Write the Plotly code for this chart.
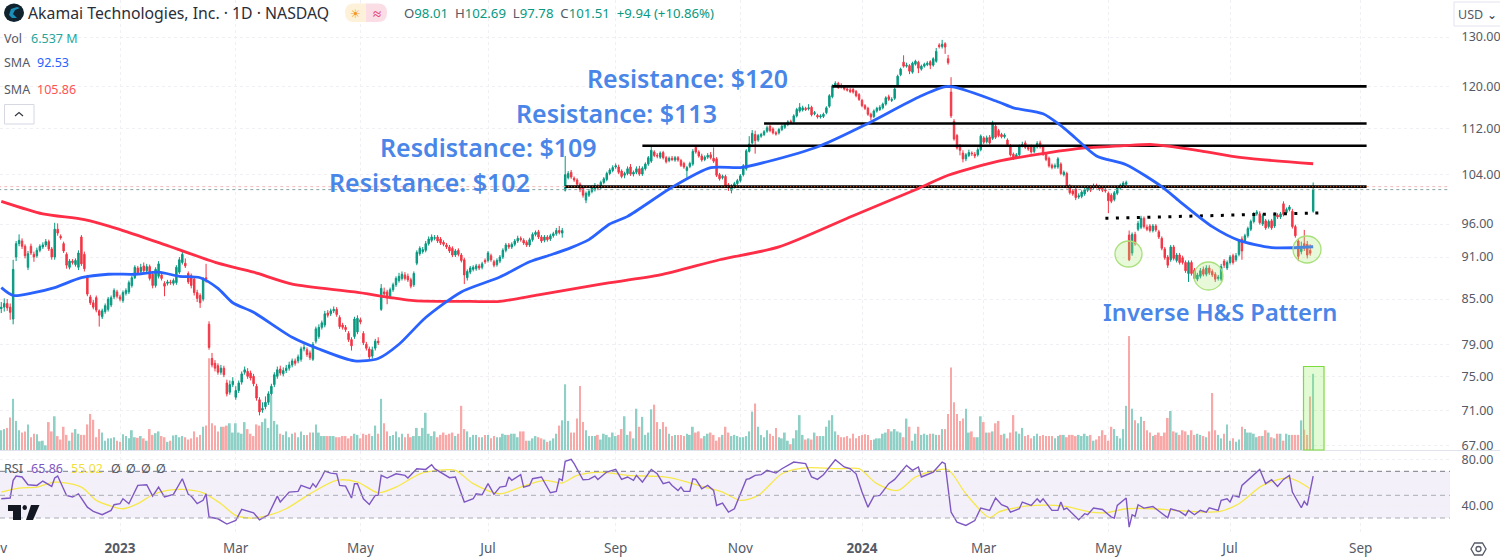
"""Akamai daily chart: candles, volume, SMAs, RSI and the drawn resistance levels."""

import plotly.graph_objects as go

WIDTH, HEIGHT = 1500, 559
PLOT_RIGHT = 1450

UP, DOWN = "#089981", "#f23645"
BLUE, RED = "#2962ff", "#ff2d46"
TEXT_BLUE = "#4a86e8"
GREY = "#555a66"
GRID = "#f1eff3"
FONT = "Noto Sans"

opens = [
    83.7, 83.9, 84.4, 83.9, 82.3, 91, 93, 93.4, 92.6, 89.5,
    92.6, 91.4, 91.2, 92, 92.5, 92.8, 93.3, 92.2, 91, 95.2,
    94.1, 93, 91.4, 89.5, 90.4, 89.9, 89.5, 94, 91.4, 88.1,
    85.3, 84.5, 85.2, 83.4, 82.6, 83.3, 83.6, 84.2, 85.3, 86,
    85.3, 84.8, 85.8, 86, 86.9, 88, 89.4, 88.9, 89.7, 89,
    89.6, 88.5, 86.9, 88.2, 88.4, 87.2, 87.2, 87.4, 87.2, 87.3,
    88.8, 90.2, 90.1, 88.6, 88.3, 87.8, 85.9, 85.5, 85, 88,
    81.6, 77.2, 76.6, 76.3, 75.5, 76, 74.2, 73.1, 74, 72.5,
    73.3, 74.3, 75.5, 75.6, 75.4, 75, 73.8, 72.2, 71, 71.4,
    71.9, 72.9, 74, 75, 75.9, 75.3, 75.7, 76, 76.4, 76.9,
    76.9, 77.1, 78.4, 78.3, 77.9, 77.1, 79.4, 80, 81.2, 81.5,
    83.1, 83, 83.4, 83.6, 82.5, 81.5, 81.2, 80.4, 79.6, 80,
    80.6, 82.2, 80.4, 79, 78.4, 77.5, 78.5, 79.4, 83.6, 86,
    86, 85.3, 86.3, 87, 87.6, 87.9, 88.4, 88.2, 87.7, 87,
    90.1, 91.5, 91.8, 92, 93, 93.5, 93.8, 94, 93.7, 93.2,
    92.8, 92.5, 92.3, 91.3, 92, 91.3, 90.6, 88, 88.8, 89.2,
    89.3, 89.7, 89.5, 90.5, 90.5, 91.2, 90.3, 89.9, 90.4, 91,
    92, 92.8, 92.5, 92.9, 93.4, 93.8, 93.5, 93.2, 92.8, 93.6,
    94.4, 94.8, 94, 93.5, 94, 93.7, 94.2, 94.5, 95, 94.6,
    101.4, 103.5, 104.4, 103.4, 103.1, 102.4, 101.8, 99.8, 100.6, 101.2,
    101.5, 102, 101.9, 102.7, 103.2, 104.2, 104.7, 105.3, 105.3, 104.6,
    103.9, 104.2, 105.3, 104.1, 104.4, 105, 104.1, 105, 105.8, 106.3,
    107.9, 107.3, 107, 107.8, 106.9, 106.4, 106.8, 106.5, 106.9, 106.4,
    105.9, 104.7, 105.4, 105.8, 108.7, 107.9, 107.2, 106.6, 107, 107.4,
    106.8, 106.7, 104, 103.5, 103.7, 102.3, 101.4, 102, 102.5, 103,
    104, 105, 108, 109.5, 111, 110, 110.7, 111, 111.6, 112.5,
    112, 111.3, 111.3, 111.9, 112.3, 112.8, 113.4, 113.3, 114.4, 115.3,
    115.5, 115.8, 115.7, 116, 114.8, 114.5, 114.2, 114.3, 115, 116.2,
    118, 120.2, 120.6, 120.2, 119.9, 119.5, 119.3, 119.4, 119, 118.4,
    117.3, 116.3, 115.8, 114.7, 114.3, 115.3, 115.6, 115.9, 116.6, 118,
    117.3, 117.7, 120.2, 122.3, 124.8, 124, 124.1, 122.8, 124.4, 124.8,
    123.4, 124, 124.3, 124.9, 124.2, 125, 128.3, 128, 128.6, 125.5,
    118.9, 113.4, 110.8, 109, 107.7, 106.7, 107.3, 107.7, 107.5, 107.4,
    108.3, 110.4, 109.7, 110.5, 110.3, 112.5, 111.7, 111, 110.6, 110,
    109, 107.5, 107, 107.4, 109, 109.5, 108.7, 108.9, 108, 108.8,
    109.5, 108.8, 107.6, 106.8, 105.6, 105.3, 105.3, 105.8, 104, 104.2,
    102.1, 101.3, 101.6, 100.3, 100.4, 100.8, 101.4, 101.8, 101.8, 102.2,
    102, 101.7, 101.5, 100.9, 100.6, 99.9, 100.9, 101.8, 102.1, 102.4,
    94.3, 91.6, 94.4, 95.2, 95.5, 96.9, 95.5, 95.7, 95, 95.7,
    94.8, 93.8, 92.2, 91, 90.6, 92.5, 90.5, 91.3, 90.9, 90.2,
    88.6, 90.2, 89.1, 87.8, 88.2, 89.2, 88.5, 89.4, 88.9, 88.5,
    87.9, 87.8, 90.4, 89.4, 90.2, 91.2, 90.6, 91.4, 93.7, 93.4,
    94.2, 95.2, 96.4, 97.6, 97.6, 96, 96.5, 95.6, 96.5, 95.7,
    97.4, 97.1, 99.2, 97.8, 98.3, 98, 95.6, 93.4, 91.8, 93, 92.9, 92, 98.01,
]
closes = [
    83.9, 84.4, 83.8, 83.2, 89.2, 93, 93.5, 92.6, 91.2, 91.5,
    91.6, 91, 92, 92.6, 92.8, 93.3, 92.2, 91, 95.2, 94.6,
    93.9, 91.9, 89.8, 90.4, 90.2, 90.5, 91.6, 90, 89.3, 85.7,
    84.5, 83.9, 83.5, 82.8, 83.4, 84.1, 85, 85.2, 86.2, 85.4,
    85, 85.9, 86.2, 87.3, 88, 89.5, 88.7, 89.5, 89, 89.6,
    87.9, 86.9, 89.2, 90, 87.9, 86.8, 87.4, 87.3, 87.6, 89.5,
    90.6, 91.4, 89.7, 87.4, 86.9, 85.9, 85.1, 84.5, 87.8, 87.8,
    78.6, 76.4, 76, 75.5, 76, 75.2, 72.9, 74, 74.4, 73.3,
    74.2, 75.3, 75.8, 75, 74.8, 74.1, 72.4, 70.8, 71.2, 71.9,
    72.9, 73.8, 75.2, 75.8, 75.4, 75.7, 76, 76.4, 76.9, 76.6,
    77.4, 78.4, 78.6, 77.7, 77.3, 79, 81, 81.2, 81.8, 83,
    82.8, 83.4, 83.6, 82.9, 81.3, 81.2, 80.9, 79.6, 78.8, 82.3,
    82.4, 81.9, 79.2, 78.5, 77.4, 78.3, 79.4, 79.2, 86.5, 85.7,
    85.2, 86.3, 87, 87.9, 88.2, 88.5, 87.9, 87.7, 86.8, 88.6,
    91.7, 92.3, 92.1, 93, 93.7, 94, 93.9, 93.4, 93.1, 92.9,
    92.5, 91.9, 91.3, 91.9, 91.4, 90.5, 88.4, 88.9, 89.4, 89.5,
    89.7, 89.4, 90, 90.3, 91.6, 90.6, 89.8, 90.5, 91, 92,
    92.8, 92.5, 92.9, 93.4, 93.8, 93.6, 93.1, 92.8, 93.6, 94.4,
    94.7, 94, 93.4, 94, 93.6, 94.2, 94.5, 95, 94.7, 95,
    104, 104.2, 103.6, 103.1, 102.4, 101.5, 100.6, 100.9, 101.2, 101.8,
    102.2, 101.8, 102.7, 103.3, 104.2, 104.8, 105.2, 105.5, 104.4, 103.7,
    104.2, 105, 104.1, 104.4, 105, 104.1, 105.1, 105.8, 106.9, 108.2,
    107.3, 107.2, 107.7, 106.9, 106.2, 106.8, 106.6, 106.9, 106.5, 105.6,
    105.3, 105.2, 105.9, 108, 107.9, 107.2, 106.5, 107, 107.3, 106.9,
    106.3, 103.9, 103.3, 103.7, 102.1, 101.8, 102.1, 102.5, 103, 103.8,
    105.5, 108.1, 109.3, 111.2, 109.9, 110.8, 111, 111.5, 112.2, 111.7,
    111.3, 111.1, 111.9, 112.5, 112.8, 113.3, 113.2, 114.4, 115.6, 116,
    115.9, 115.6, 115.9, 114.6, 115, 114.2, 114.4, 114.7, 115.9, 118.2,
    120.1, 120.6, 119.8, 119.9, 119.5, 119.3, 119, 118.9, 118.2, 117.5,
    116.3, 115.8, 114.7, 114.2, 115.3, 115.8, 116, 116.6, 117.8, 117.5,
    117.5, 119.5, 122, 123.4, 124, 124.2, 123, 124.6, 125, 123.6,
    124, 124.4, 124.6, 124.2, 125.5, 127, 128, 128.5, 127.9, 124.7,
    114.4, 110.2, 108.6, 108.2, 106.7, 107.4, 107.8, 107.6, 107.2, 108.3,
    110.7, 109.6, 110.4, 109.5, 113, 110.5, 110.8, 110.6, 110.9, 109.2,
    107.4, 106.8, 107.4, 108.9, 109.2, 108.7, 108.4, 107.9, 108.8, 109.4,
    108.8, 107.5, 106.6, 105.5, 105.2, 105.5, 106.7, 104.2, 104.4, 102,
    101, 100.8, 100.2, 100.5, 101.1, 101.5, 101.8, 101.4, 102.1, 102,
    101.6, 101.4, 101.3, 99.7, 99.6, 101, 101.8, 102.2, 102.6, 102.7,
    90.6, 94.4, 93, 96.1, 96.9, 95.6, 95.2, 95, 95.7, 95.1,
    94, 92.3, 90.9, 89.8, 92.5, 90.8, 91.3, 90.2, 90.2, 89,
    90.2, 88.6, 87.9, 88.4, 89, 88.5, 89.4, 88.7, 88.4, 87.8,
    88.1, 89.6, 89.8, 90.2, 91, 90.2, 91.2, 93.4, 91.9, 94.2,
    95.3, 96.4, 97.6, 97.9, 96.2, 97.3, 95.4, 96.4, 95.4, 97.5,
    97.1, 97.6, 97.5, 98.3, 98.7, 95.6, 94.2, 91.1, 92.2, 92.3, 91.3, 91.57, 101.51,
]
highs = [
    84.6, 85.1, 85, 84.4, 90.6, 93.4, 94.4, 93.8, 92.9, 91.9,
    93, 91.8, 92.4, 92.9, 93.2, 93.7, 93.6, 92.5, 96.2, 96.1,
    94.4, 93.3, 91.7, 90.7, 90.7, 90.8, 92, 94.3, 91.8, 88.4,
    85.6, 84.9, 85.5, 83.6, 83.7, 84.4, 85.3, 85.5, 86.5, 86.3,
    85.6, 86.2, 86.5, 87.6, 88.3, 89.8, 89.7, 90, 90.2, 90,
    89.9, 88.8, 89.5, 90.4, 88.7, 87.5, 87.7, 87.7, 87.9, 89.8,
    91, 91.8, 90.8, 88.9, 88.6, 88.1, 86.3, 85.8, 88.1, 90,
    82, 77.9, 77, 76.6, 76.4, 76.3, 74.6, 74.5, 74.9, 73.8,
    74.5, 75.6, 76.2, 76, 75.7, 75.3, 74.1, 72.5, 71.9, 72.6,
    73.2, 74.1, 75.5, 76.2, 76.3, 76.1, 76.4, 76.8, 77.2, 77.2,
    77.7, 78.7, 79, 78.6, 78.2, 79.3, 81.3, 81.6, 82.1, 83.4,
    83.5, 83.7, 84, 83.9, 82.8, 81.8, 81.5, 80.7, 79.9, 82.6,
    82.8, 82.5, 80.7, 79.3, 78.7, 78.7, 79.7, 79.9, 87.1, 86.6,
    86.3, 86.6, 87.3, 88.2, 88.7, 88.9, 88.8, 88.6, 88, 88.9,
    92, 92.6, 92.5, 93.4, 94.1, 94.4, 94.3, 94.3, 94, 93.5,
    93.1, 92.8, 92.6, 92.2, 92.3, 91.6, 90.9, 89.2, 89.7, 89.8,
    90, 90, 90.3, 90.8, 91.9, 91.5, 90.6, 90.8, 91.3, 92.3,
    93.1, 93.1, 93.2, 93.7, 94.2, 94.1, 93.8, 93.5, 93.9, 94.7,
    95, 95.1, 94.3, 94.3, 94.3, 94.5, 94.8, 95.4, 95.7, 95.4,
    107.2, 104.6, 104.8, 103.7, 103.4, 102.7, 102.1, 101.2, 101.6, 102.2,
    102.6, 102.4, 103, 103.6, 104.5, 105.1, 105.6, 105.9, 105.7, 104.9,
    104.5, 105.4, 105.8, 104.7, 105.4, 105.5, 105.4, 106.1, 107.2, 108.8,
    108.2, 107.7, 108, 108.1, 107.2, 107.1, 107.2, 107.2, 107.2, 106.7,
    106.2, 105.5, 106.2, 108.4, 109.1, 108.2, 107.6, 107.3, 107.7, 107.9,
    108.7, 107, 104.3, 104, 104, 102.6, 102.4, 102.8, 103.3, 104.1,
    105.8, 108.4, 110.7, 111.8, 111.7, 111.1, 111.3, 111.8, 112.6, 112.8,
    112.3, 111.6, 112.2, 112.8, 113.1, 113.6, 113.7, 114.7, 115.9, 116.8,
    116.3, 116.1, 116.6, 116.3, 115.3, 114.8, 114.7, 115, 116.2, 118.5,
    120.4, 121, 120.9, 120.6, 120.2, 119.8, 119.7, 119.7, 119.3, 118.7,
    117.6, 116.6, 116.1, 115, 115.6, 116.1, 116.4, 116.9, 118.1, 118.4,
    117.9, 119.8, 122.3, 123.7, 126.2, 124.7, 124.4, 124.9, 125.3, 125.1,
    124.3, 124.7, 125, 125.2, 125.8, 127.7, 128.7, 129.4, 128.9, 126.3,
    121.8, 113.8, 111.1, 109.3, 108.2, 107.7, 108.3, 108, 107.9, 108.7,
    111, 110.7, 110.8, 110.9, 113.5, 112.9, 112, 111.3, 111.2, 110.3,
    109.3, 107.8, 107.7, 109.2, 109.7, 109.9, 109.1, 109.2, 109.1, 109.8,
    109.9, 109.1, 107.9, 107.1, 105.9, 105.9, 107, 106.1, 104.7, 104.5,
    102.4, 101.6, 101.9, 100.9, 101.4, 101.8, 102.2, 102.2, 102.5, 102.5,
    102.3, 102, 101.8, 101.2, 100.9, 101.3, 102.1, 102.5, 102.9, 103,
    95, 94.7, 94.8, 96.5, 97.3, 97.2, 95.9, 96, 96, 96,
    95.1, 94.1, 92.5, 91.3, 92.8, 92.8, 91.6, 91.6, 91.2, 90.5,
    90.5, 90.5, 89.4, 88.7, 89.4, 89.6, 89.8, 89.8, 89.2, 88.8,
    88.4, 90, 90.7, 90.5, 91.3, 91.5, 91.6, 93.7, 94.1, 94.5,
    95.6, 96.7, 97.9, 98.2, 98, 97.6, 96.8, 96.7, 96.8, 97.8,
    97.7, 97.9, 99.6, 98.6, 99, 98.4, 95.9, 93.7, 93.3, 95.1, 93.4, 92.9, 102.69,
]
lows = [
    83.1, 83.3, 83.4, 82.2, 81.6, 90.4, 92.6, 92.2, 90.8, 89.1,
    91.3, 90.3, 90.9, 91.7, 92.2, 92.5, 91.9, 90.6, 90.6, 94.2,
    93.6, 91.6, 89.3, 89.2, 89.9, 89.6, 89.1, 89.7, 88.9, 85.4,
    84.2, 83.6, 83.2, 81.3, 82.3, 83, 83.3, 83.9, 85, 85.1,
    84.7, 84.5, 85.5, 85.7, 86.6, 87.8, 88.4, 88.6, 88.7, 88.7,
    87.6, 86.5, 86.6, 87.9, 87.6, 85.4, 86.9, 87, 86.9, 87,
    88.5, 89.9, 89.4, 87.1, 86.5, 85.5, 84.6, 83.8, 84.7, 87.3,
    78.3, 76.1, 75.6, 75.2, 75.2, 74.9, 72.6, 72.8, 73.7, 72.2,
    73, 74, 75.2, 74.7, 74.5, 73.8, 72.1, 70.4, 70.7, 71.1,
    71.6, 72.6, 73.7, 74.7, 75.1, 75, 75.4, 75.7, 76.1, 76.3,
    76.6, 76.8, 78.1, 77.4, 77, 76.9, 79.1, 79.7, 80.9, 81.2,
    82.5, 82.7, 83.1, 82.6, 81, 80.9, 80.6, 79.3, 78.2, 79.7,
    80.3, 81.6, 78.9, 78.2, 77.1, 77.2, 78.2, 78.9, 83.4, 85.3,
    84.3, 85, 86, 86.7, 87.3, 87.6, 87.6, 87.4, 86.5, 86.7,
    89.8, 91.2, 91.5, 91.7, 92.7, 93.2, 93.5, 93.1, 92.8, 92.6,
    92.2, 91.6, 91, 91, 91.1, 90.2, 87.1, 87.6, 88.5, 88.9,
    89, 89.1, 89.2, 90, 90.2, 90.3, 89.5, 89.6, 90.1, 90.7,
    91.7, 92.2, 92.2, 92.6, 93.1, 93.3, 92.8, 92.5, 92.5, 93.3,
    94.1, 93.7, 93.1, 93.2, 93.3, 93.4, 93.9, 94.2, 94.4, 93.9,
    101.2, 103.2, 103.3, 102.8, 102, 101.1, 100.2, 99.3, 100.3, 100.9,
    101.2, 101.4, 101.6, 102.4, 102.9, 103.9, 104.4, 105, 104.1, 103.4,
    103.4, 103.9, 103.8, 103.7, 104.1, 103.8, 103.8, 104.7, 105.5, 106,
    107, 106.8, 106.7, 106.6, 105.9, 106.1, 106.3, 106.2, 106.2, 105.3,
    105, 103.5, 105.1, 105.5, 107.6, 106.9, 106.2, 106.3, 106.7, 106.6,
    106, 103.6, 103, 103.2, 101.8, 101.3, 100.9, 101.7, 102.2, 102.7,
    103.7, 104.7, 107.8, 109.2, 107.6, 109.7, 110.4, 110.7, 111.3, 111.4,
    111, 110.8, 111, 111.6, 112, 112.5, 112.9, 113, 114.1, 115,
    115.2, 115.3, 115.4, 114.3, 114.5, 113.9, 113.9, 114, 114.7, 115.9,
    117.7, 119.9, 119.5, 119.6, 119.2, 119, 118.7, 118.6, 117.9, 117.2,
    116, 115.5, 114.4, 113.6, 114, 115, 115.3, 115.6, 116.3, 117.2,
    117, 117.4, 119.9, 122, 123.7, 123.7, 122.4, 122.5, 124.1, 122.6,
    123.1, 123.7, 124, 123.4, 123.9, 124.7, 127.6, 127.6, 126.5, 124.3,
    114, 109.9, 108.3, 107.3, 106.1, 106.3, 107, 107.2, 106.8, 107.1,
    108, 109.3, 109.4, 109.2, 110, 110.2, 110.5, 110.3, 110.3, 108.9,
    107.1, 106.5, 106.7, 107.1, 108.7, 108.4, 108.1, 107.6, 107.7, 108.5,
    108.5, 107.2, 106.3, 105.2, 104.9, 105, 105, 103.9, 103.7, 101.7,
    100.7, 100.5, 99.8, 100, 100.1, 100.5, 101.1, 101.1, 101.5, 101.7,
    101.3, 101.1, 101, 97.7, 99.3, 99.6, 100.6, 101.5, 101.8, 102.2,
    90.4, 91.2, 92.7, 94.9, 95.2, 95.3, 94.9, 94.7, 94.7, 94.8,
    93.7, 92, 90.6, 89.4, 90.3, 90.5, 90.2, 89.9, 89.9, 88.7,
    87.4, 88.3, 87.6, 87.5, 87.9, 88.2, 88.2, 88.4, 88.1, 87.4,
    87.6, 87.5, 89.4, 89.1, 89.9, 89.9, 90.3, 91.1, 90.6, 93.1,
    93.9, 94.9, 96.1, 97.3, 95.9, 95.7, 95.1, 95.3, 95.1, 95.4,
    96.8, 96.8, 97.2, 97.5, 98, 95.3, 93.9, 90.4, 91.4, 91.9, 90.8, 91.2, 97.78,
]
volumes = [
    1.7, 1.8, 1.9, 2.8, 4.4, 2.5, 1.7, 1.5, 1.6, 2.2,
    1.1, 1.4, 1.35, 0.75, 0.8, 0.4, 2.4, 1.6, 2.9, 1.2,
    0.9, 2, 1.3, 0.8, 1.5, 1.8, 1.4, 1.3, 1.3, 2.2,
    3.1, 2.6, 1.1, 1.8, 1.5, 0.8, 1, 1, 1.1, 0.8,
    0.7, 1.35, 1.2, 1, 1.7, 1.1, 1.05, 1.2, 1, 0.8,
    1.8, 1.3, 1.45, 1.6, 1.2, 1.1, 0.7, 0.8, 1.25, 1.3,
    1.1, 1.2, 1.1, 0.9, 1, 1.6, 1.1, 1.3, 2, 2.1,
    7.9, 2.3, 2.1, 1.6, 2, 2, 2.1, 2.3, 1.5, 2.3,
    1.5, 1.4, 2.4, 1.8, 1.4, 1.2, 2.2, 2.1, 2.4, 2.7,
    1.9, 4.7, 2.5, 2.2, 1.4, 1.3, 1.6, 1.1, 1.4, 1.5,
    1.1, 1.6, 1.3, 1.3, 1.5, 1.5, 2.2, 1.5, 1.2, 1.2,
    1.2, 1.2, 1.2, 1.1, 1.1, 1.2, 1.2, 1, 1.2, 1.4,
    1.3, 1, 1.4, 1.3, 1.4, 1.2, 2.1, 1.4, 4.4, 2.3,
    1.6, 1.2, 1.3, 1.6, 1.1, 1.4, 1.1, 1.4, 1.1, 1.2,
    1.9, 1.2, 1.9, 3.2, 1.4, 1.2, 1.6, 1.1, 1.3, 1.5,
    1.3, 1.4, 1.5, 1.2, 1.4, 3.8, 1.8, 1.6, 1.1, 1.3,
    1.3, 1.1, 1.1, 1.3, 1.3, 1, 1.2, 1.1, 1.1, 1.4,
    1.3, 1.3, 1.4, 1.4, 1.1, 1.6, 1.6, 0.8, 0.8, 1,
    1.2, 1.1, 1, 0.9, 0.7, 0.8, 1, 1.4, 2.1, 2.55,
    5.65, 2.5, 1.5, 1.5, 2.7, 5.5, 2.4, 1.7, 1.2, 1.2,
    1.2, 1.3, 0.9, 1.4, 1.3, 1.1, 1.5, 1.2, 1.3, 1.8,
    2.9, 1.3, 1.6, 1, 3.55, 2, 2.85, 1.3, 1.5, 3.5,
    3.9, 2.4, 1.8, 2.4, 2, 1.4, 1.2, 1.3, 1.3, 1.3,
    1.2, 1.4, 1.3, 2, 1.5, 1.6, 1, 1.2, 1.4, 1.5,
    1.3, 0.8, 1.1, 1.3, 2, 1.5, 1.2, 1.3, 1.2, 1.1,
    1.1, 1.2, 1.6, 3.3, 4, 2, 1.3, 1.1, 1.7, 1.4,
    1.2, 1.9, 1.1, 1, 1.5, 0.8, 0.5, 1, 1.7, 3,
    1.3, 0.9, 1, 0.9, 1.5, 1.2, 1.2, 1.2, 2, 2.55,
    3, 1.6, 1.3, 1.1, 1.1, 1.2, 1, 1.4, 1, 1.2,
    1.3, 1.35, 1.3, 0.85, 0.9, 1, 1, 1.4, 1.5, 1.8,
    1.6, 1.8, 1.6, 1.5, 1.1, 2.7, 2, 0.8, 1.4, 2,
    1.3, 1.4, 1.3, 1.4, 1.4, 1.3, 1.3, 1.8, 1.8, 3.1,
    7.1, 4.1, 3.1, 2.5, 2.7, 3.55, 1.5, 1.6, 1.1, 1.1,
    2.9, 2.4, 1.5, 1.5, 1.6, 2.3, 2.5, 1.3, 1.4, 1,
    1.5, 3, 1.6, 1.4, 1.9, 1.2, 1.3, 1, 1.2, 1.4,
    1.2, 1.3, 1.2, 1.2, 1.2, 1, 1.2, 1.3, 1.3, 1.1,
    1.3, 1.3, 1.2, 1.3, 1.2, 1.4, 1.2, 1.3, 0.8, 0.9,
    1.2, 1.7, 1.3, 0.8, 2, 1.8, 1.2, 1, 1.8, 3.8,
    9.8, 3.55, 2.55, 2.3, 2.85, 2.5, 1.7, 1.5, 1.2, 1.3,
    1.5, 1.2, 1.5, 2.75, 3.35, 1.6, 1.5, 1.3, 1.7, 1.6,
    1.3, 1.7, 1.3, 1.4, 1.3, 1.2, 1.1, 1.6, 4.9, 1.7,
    1.3, 1, 1.4, 2.2, 0.8, 1, 0.7, 0.9, 2, 1.8,
    1.5, 1.5, 1.4, 1.1, 1.2, 1.2, 1.7, 1.5, 1.1, 1,
    1.4, 1.4, 0.8, 1.4, 1.3, 1.3, 1.3, 1.3, 2.55, 1.75, 1.3, 4.6, 6.55,
]

sma50_bars = [
    0, 4, 11, 18, 27, 36, 45, 53, 60, 67, 73, 78, 85, 98, 107, 119, 127, 134, 143, 155,
    168, 178, 185, 192, 198, 205, 211, 226, 239, 249, 258, 276, 292, 309, 319, 336, 341,
    351, 357, 361, 369, 379, 391, 397, 408, 417, 428, 442,
]
sma50_values = [
    86.6, 85.5, 85.9, 86.6, 88, 88.5, 88.5, 88.8, 88.2, 88, 86.5, 84.5, 83.2, 79.9, 78.4,
    76.9, 77.2, 79, 82.5, 86, 88.1, 90.3, 91.3, 92.4, 93.6, 96, 97.2, 101.9, 105.2, 105.2,
    106.2, 109, 113, 117.9, 120, 117, 115.9, 114.8, 112.6, 110.8, 107.2, 105.7, 102, 99.6,
    95.6, 93.5, 92.4, 92.53,
]
sma200_bars = [
    0, 14, 28, 39, 56, 73, 85, 98, 119, 139, 155, 168, 181, 202, 222, 242, 262, 287, 309,
    319, 336, 352, 365, 378, 388, 404, 418, 442,
]
sma200_values = [
    99.6, 97.6, 96.7, 95.3, 92.7, 90.1, 88.8, 87.1, 86, 84.8, 84.7, 84.7, 85.6, 87.1, 88.4,
    90.6, 92.5, 97.3, 101.7, 103.9, 106.3, 107.7, 108.6, 109, 109.2, 108.1, 106.9, 105.86,
]

rsi_bars = [
    0, 3, 4, 5, 7, 8, 9, 12, 14, 17, 18, 19, 22, 24, 26, 29, 31, 34, 37, 38,
    40, 41, 43, 46, 49, 51, 53, 55, 58, 61, 63, 64, 66, 68, 69, 70, 73, 76, 79, 81,
    85, 87, 90, 93, 94, 97, 100, 101, 104, 105, 106, 108, 109, 111, 113, 114, 116, 118, 119, 120,
    122, 124, 126, 127, 128, 130, 133, 136, 137, 140, 143, 145, 146, 151, 153, 156, 159, 160, 162, 164,
    166, 168, 170, 171, 172, 175, 176, 178, 179, 182, 185, 187, 188, 189, 190, 192, 193, 196, 198, 200,
    201, 204, 207, 209, 211, 213, 214, 216, 219, 221, 223, 225, 226, 228, 229, 230, 232, 233, 234, 236,
    238, 240, 241, 243, 245, 247, 251, 252, 254, 256, 258, 261, 263, 267, 271, 273, 275, 277, 279, 281,
    284, 286, 288, 290, 292, 294, 296, 299, 301, 305, 307, 309, 310, 314, 317, 318, 320, 322, 325, 328,
    330, 333, 335, 337, 339, 340, 343, 344, 347, 349, 350, 351, 354, 356, 357, 358, 359, 363, 365, 366,
    368, 371, 374, 375, 376, 379, 380, 381, 382, 383, 385, 388, 389, 393, 394, 397, 399, 400, 402, 404,
    406, 407, 410, 411, 413, 414, 415, 417, 418, 420, 424, 426, 428, 430, 432, 434, 435, 438, 439, 440, 442,
]
rsi_values = [
    46.3, 46.9, 62.3, 66, 65.2, 62.3, 58.5, 57.9, 61.7, 57, 64.3, 66, 49.2, 47.8, 50.6, 39, 35.3, 32.4, 36.2, 41.1,
    42, 46.3, 42, 57.9, 58.5, 48.6, 56.4, 47.8, 50.1, 63.7, 50.1, 48.6, 42, 44.9, 50.6, 30.4, 28.9, 24.3, 27.4, 37,
    34.1, 28, 32.4, 48.6, 43.4, 52.1, 52.7, 57.9, 55, 59.4, 56.4, 65.2, 70.4, 68.6, 68, 57.9, 57.3, 46.9, 59.4, 59.4,
    46.3, 41.4, 49.2, 49.2, 66.6, 64.3, 68, 66.6, 64.3, 72.4, 71.8, 75.9, 72.4, 64.6, 65.2, 43.4, 46.3, 50.6, 49.8, 59.4,
    50.1, 56.4, 57.3, 65.2, 62.3, 67.2, 56.4, 57.9, 63.7, 65.2, 51.5, 52.7, 63.7, 62.3, 78.8, 80.5, 76.8, 62.8, 63.1, 66,
    63.1, 69.5, 71.8, 63.1, 65.2, 62.3, 66.6, 60.8, 71.8, 68, 59.4, 60.8, 57.9, 53.5, 56.4, 52.7, 52.7, 63.7, 63.1, 55,
    57.9, 53.5, 40.5, 42.5, 34.7, 37.6, 63.1, 63.7, 66.6, 67.2, 71, 68.6, 72.4, 78.2, 76.8, 65.2, 63.1, 67.2, 73.9, 80.2,
    73.9, 72.4, 68, 52.1, 39, 48.6, 49.2, 59.4, 63.1, 75.3, 71, 73.9, 65.2, 69.5, 78.2, 76.8, 34.7, 26, 23.1, 27.4,
    38.2, 36.2, 46.9, 41.1, 39, 34.7, 37.6, 43.4, 40.5, 46.3, 43.4, 46.3, 36.2, 36.2, 43.4, 37, 38.2, 28, 33.3, 32.4,
    38.2, 37, 30.4, 29.5, 40.5, 46.9, 21.7, 32.4, 31, 41.1, 38.2, 39.6, 37.6, 29.8, 37.6, 35.3, 31.8, 36.2, 32.4, 36.2,
    34.7, 38.5, 36.2, 44.9, 46.3, 43.4, 49.2, 47.8, 57.9, 62.3, 71.8, 59.4, 62.8, 57, 63.1, 66.6, 52.1, 38.5, 44, 40.5, 66,
]
rsi_ma_bars = [
    0, 6, 12, 18, 27, 32, 37, 41, 46, 51, 56, 61, 68, 74, 79, 84, 90, 96, 104, 113, 120,
    127, 133, 141, 147, 153, 159, 168, 175, 183, 189, 194, 202, 211, 221, 226, 237, 243,
    249, 255, 263, 270, 283, 289, 295, 302, 308, 314, 319, 325, 333, 336, 340, 348, 358,
    367, 372, 379, 388, 395, 405, 411, 417, 425, 434, 441,
]
rsi_ma_values = [
    52.1, 55.6, 56.4, 60.8, 56.4, 44.9, 39.9, 37.6, 42, 49.8, 53.5, 54.4, 51.5, 42, 31.8,
    29.5, 31.8, 37.6, 50.6, 62.3, 60.8, 51.5, 56.4, 68, 71, 71, 59.4, 50.6, 56.4, 62.3, 60,
    66.6, 69.5, 66.6, 65.7, 64.3, 56.4, 52.1, 44.9, 49.2, 68, 73, 72.4, 72.4, 59.4, 53.5,
    65.2, 70.4, 71.5, 50.6, 29.8, 34.7, 37.6, 40.5, 39.9, 34.7, 34.1, 37.6, 37.6, 36.2,
    34.7, 35.6, 42, 57.9, 64.3, 55,
]

price_ticks = [130, 120, 112, 104, 96, 91, 85, 79, 75, 71, 67]
rsi_ticks = [80, 40]
month_bars = [40, 79, 121, 164, 207, 249, 290, 331, 373, 414, 458]
month_labels = ["<b>2023</b>", "Mar", "May", "Jul", "Sep", "Nov", "<b>2024</b>", "Mar", "May", "Jul", "Sep"]

level_prices = [120, 113, 109, 102]
level_starts = [280, 257, 216, 190]
level_end = 460
neckline_bars = [372, 444]
neckline_prices = [96.9, 97.75]
last_close = 101.51


def px(x):
    return x / WIDTH


def py(y):
    return 1 - y / HEIGHT


def poly(points):
    return "M " + " L ".join(f"{px(x):.5f},{py(y):.5f}" for x, y in points) + " Z"


def pt(x, y):
    return f"{px(x):.5f},{py(y):.5f}"


bars = list(range(len(closes)))
vol_colors = ["#8ed0c6" if c >= o else "#f9a8a8" for o, c in zip(opens, closes)]

fig = go.Figure()

fig.add_trace(go.Candlestick(
    x=bars, open=opens, high=highs, low=lows, close=closes,
    increasing=dict(line=dict(color=UP, width=1), fillcolor=UP),
    decreasing=dict(line=dict(color=DOWN, width=1), fillcolor=DOWN),
    whiskerwidth=0, xaxis="x", yaxis="y",
))

# price lines running across the whole pane
fig.add_trace(go.Scatter(
    x=[-1, 489], y=[102, 102], mode="lines", line=dict(color="#f4b9b9", width=1, dash="dot"), yaxis="y",
))
fig.add_trace(go.Scatter(
    x=[-1, 489], y=[last_close, last_close], mode="lines", line=dict(color="#8aa39f", width=1, dash="dot"), yaxis="y",
))

for level, start in zip(level_prices, level_starts):
    fig.add_trace(go.Scatter(
        x=[start, level_end], y=[level, level], mode="lines",
        line=dict(color="#000000", width=2.6), yaxis="y",
    ))
fig.add_trace(go.Scatter(
    x=[level_starts[3], level_end], y=[102, 102], mode="lines",
    line=dict(color="#e0691a", width=1.4, dash="1px,2px"), yaxis="y",
))
fig.add_trace(go.Scatter(
    x=neckline_bars, y=neckline_prices, mode="lines",
    line=dict(color="#000000", width=3, dash="3px,7.5px"), yaxis="y",
))

fig.add_trace(go.Scatter(
    x=sma200_bars, y=sma200_values, mode="lines",
    line=dict(color=RED, width=2.8, shape="spline", smoothing=0.7), yaxis="y",
))
fig.add_trace(go.Scatter(
    x=sma50_bars, y=sma50_values, mode="lines",
    line=dict(color=BLUE, width=2.8, shape="spline", smoothing=0.7), yaxis="y",
))

fig.add_trace(go.Bar(
    x=bars, y=volumes, width=0.6, marker_color=vol_colors, marker_line_width=0,
    xaxis="x", yaxis="y2",
))

fig.add_trace(go.Scatter(
    x=rsi_ma_bars, y=rsi_ma_values, mode="lines",
    line=dict(color="#f7e84a", width=1.3, shape="spline", smoothing=0.8), yaxis="y3",
))
fig.add_trace(go.Scatter(x=rsi_bars, y=rsi_values, mode="lines", line=dict(color="#7e57c2", width=1.4), yaxis="y3"))

# rsi band
shapes = [
    dict(type="rect", xref="paper", yref="paper", x0=0, x1=px(PLOT_RIGHT), y0=py(518), y1=py(471.3),
         fillcolor="rgba(126,87,194,0.09)", line_width=0, layer="below"),
    dict(type="line", xref="paper", yref="paper", x0=0, x1=1, y0=py(450.5), y1=py(450.5),
         line=dict(color="#e0e3eb", width=1)),
]
for y_line, colour in [(471.3, "#787b86"), (495.3, "#a9acb5"), (518, "#a9acb5")]:
    shapes.append(dict(type="line", xref="paper", yref="paper", x0=0, x1=px(PLOT_RIGHT), y0=py(y_line), y1=py(y_line),
                       line=dict(color=colour, width=1, dash="5px,4px")))

# circles and box marking the pattern
for x0, x1, y0, y1 in [(1115, 1142, 241, 267), (1194, 1223, 262, 290), (1293, 1321, 236, 263)]:
    shapes.append(dict(type="circle", xref="paper", yref="paper", x0=px(x0), x1=px(x1), y0=py(y0), y1=py(y1),
                       fillcolor="rgba(170,235,120,0.28)", line=dict(color="#a8e07a", width=1.3)))
shapes.append(dict(type="rect", xref="paper", yref="paper", x0=px(1303.5), x1=px(1324), y0=py(366.5), y1=py(450),
                   fillcolor="rgba(150,240,100,0.28)", line=dict(color="#7ddb3c", width=1.2)))

# header bits: logo, weather pills, currency box, collapse button
shapes += [
    dict(type="circle", xref="paper", yref="paper", x0=px(4), x1=px(24), y0=py(3.5), y1=py(22),
         fillcolor="#10222e", line_width=0),
    dict(type="path", xref="paper", yref="paper",
         path=poly([(9, 15), (11, 9), (17, 7), (20, 8), (15, 10), (13, 14), (17, 18), (12, 18)]),
         fillcolor="#1c8fb8", line_width=0),
    dict(type="path", xref="paper", yref="paper",
         path=f"M {pt(366, 3.5)} L {pt(366, 22)} L {pt(354, 22)} Q {pt(345, 22)} {pt(345, 12.7)} "
              f"Q {pt(345, 3.5)} {pt(354, 3.5)} Z",
         fillcolor="#fdf1da", line_width=0),
    dict(type="path", xref="paper", yref="paper",
         path=f"M {pt(366, 3.5)} L {pt(366, 22)} L {pt(378, 22)} Q {pt(387, 22)} {pt(387, 12.7)} "
              f"Q {pt(387, 3.5)} {pt(378, 3.5)} Z",
         fillcolor="#fbdde6", line_width=0),
    dict(type="rect", xref="paper", yref="paper", x0=px(1454), x1=px(1505), y0=py(2), y1=py(26),
         fillcolor="#ffffff", line=dict(color="#e6e2f0", width=1)),
    dict(type="rect", xref="paper", yref="paper", x0=px(4.5), x1=px(34), y0=py(104.5), y1=py(124),
         fillcolor="#ffffff", line=dict(color="#d6d8e2", width=1)),
    dict(type="path", xref="paper", yref="paper",
         path=f"M {pt(15, 116)} L {pt(19, 112.5)} L {pt(23, 116)}",
         line=dict(color="#333844", width=1.2)),
    # tradingview mark
    dict(type="path", xref="paper", yref="paper",
         path=poly([(8, 505), (21, 505), (21, 520), (13, 520), (13, 511), (8, 511)]),
         fillcolor="#131722", line_width=0),
    dict(type="circle", xref="paper", yref="paper", x0=px(22.5), x1=px(27), y0=py(505), y1=py(510),
         fillcolor="#131722", line_width=0),
    dict(type="path", xref="paper", yref="paper",
         path=poly([(31, 505), (39.5, 505), (33, 520), (26, 520)]),
         fillcolor="#131722", line_width=0),
    # settings icon
    dict(type="path", xref="paper", yref="paper",
         path=poly([(1471, 549), (1474.5, 543), (1482.5, 543), (1486, 549), (1482.5, 555), (1474.5, 555)]),
         line=dict(color="#555a66", width=1.3)),
    dict(type="circle", xref="paper", yref="paper", x0=px(1476), x1=px(1481), y0=py(546.5), y1=py(551.5),
         line=dict(color="#555a66", width=1.3)),
]


def label(x, y, text, size=13, color=GREY, anchor="left", weight=None):
    font = dict(family=FONT, size=size, color=color)
    if weight:
        font["weight"] = weight
    offset = 2 if anchor == "left" else 0
    return dict(
        xref="paper", yref="paper", x=px(x - offset), y=py(y), text=text,
        showarrow=False, xanchor=anchor, yanchor="middle", font=font,
    )


def ohlc(name, value):
    return f"{name}<span style='color:{UP}'>{value}</span>"


annotations = [
    label(28, 13, "Akamai Technologies, Inc. · 1D · NASDAQ", size=15.8, color="#2a2e39"),
    label(355.5, 13, "☀", size=12, color="#f59a23", anchor="center"),
    label(376.5, 13, "≈", size=15, color="#e0245e", anchor="center"),
    label(404, 13, "  ".join([ohlc("O", "98.01"), ohlc("H", "102.69"), ohlc("L", "97.78"), ohlc("C", "101.51"),
                              f"<span style='color:{UP}'>+9.94 (+10.86%)</span>"]), size=13.2),
    label(1458, 14, "USD", size=12.5),
    label(1492, 14, "⌄", size=12, color="#333844", anchor="center"),
    label(4, 38, "Vol", size=12.5),
    label(31, 38, "6.537 M", size=12.5, color="#26a69a"),
    label(4, 63, "SMA", size=12.5),
    label(37, 63, "92.53", size=12.5, color=BLUE),
    label(4, 89, "SMA", size=12.5),
    label(37, 89, "105.86", size=12.5, color="#ff5252"),
    label(4, 468, "RSI", size=12.5),
    label(31, 468, "65.86", size=12.5, color="#7e57c2"),
    label(71, 468, "55.02", size=12.5, color="#f0e03a"),
    label(111, 468, "Ø", size=12.5),
    label(126, 468, "Ø", size=12.5),
    label(141, 468, "Ø", size=12.5),
    label(156, 468, "Ø", size=12.5),
    label(587, 78, "Resistance: $120", size=25, color=TEXT_BLUE, weight=600),
    label(516, 113, "Resistance: $113", size=25, color=TEXT_BLUE, weight=600),
    label(380, 147, "Resdistance: $109", size=25, color=TEXT_BLUE, weight=600),
    label(329, 182, "Resistance: $102", size=25, color=TEXT_BLUE, weight=600),
    label(1103, 312, "Inverse H&S Pattern", size=23.7, color=TEXT_BLUE, weight=600),
    label(-6, 548, "Nov", size=13.5, anchor="center"),
]

tick_font = dict(family=FONT, size=13.5, color=GREY)
value_font = dict(family=FONT, size=12.5, color=GREY)
CLEAR = "rgba(0,0,0,0)"
fig.update_layout(
    width=WIDTH, height=HEIGHT, margin=dict(l=0, r=0, t=0, b=0),
    paper_bgcolor="#ffffff", plot_bgcolor="#ffffff", showlegend=False, barmode="overlay",
    shapes=shapes, annotations=annotations,
    xaxis=dict(
        domain=[0, px(PLOT_RIGHT)], range=[-0.43, 488.1], anchor="y3", automargin=False,
        tickmode="array", tickvals=month_bars, ticktext=month_labels, tickfont=tick_font,
        ticks="outside", ticklen=1, tickcolor=CLEAR,
        showgrid=True, gridcolor=GRID, griddash="dot", zeroline=False, showline=False,
        rangeslider=dict(visible=False),
    ),
    yaxis=dict(
        domain=[py(450), 1], type="log", range=[1.8232, 2.14], side="right", anchor="x", automargin=False,
        tickmode="array", tickvals=price_ticks, ticktext=[f"{t:.2f}" for t in price_ticks], tickfont=value_font,
        ticks="outside", ticklen=8, tickcolor=CLEAR,
        showgrid=True, gridcolor=GRID, griddash="dot", zeroline=False, showline=False,
    ),
    yaxis2=dict(
        domain=[py(450), 1], range=[0, 38.7], anchor="x", overlaying="y", visible=False,
    ),
    yaxis3=dict(
        domain=[py(535), py(451)], range=[14.8, 87.8], side="right", anchor="x", automargin=False,
        tickmode="array", tickvals=rsi_ticks, ticktext=[f"{t:.2f}" for t in rsi_ticks], tickfont=value_font,
        ticks="outside", ticklen=8, tickcolor=CLEAR,
        showgrid=True, gridcolor=GRID, griddash="dot", zeroline=False, showline=False,
    ),
)

fig.write_html(
    "out.html",
    config={"displayModeBar": False},
    post_script="document.body.style.margin='0';document.body.style.overflow='hidden';",
)
